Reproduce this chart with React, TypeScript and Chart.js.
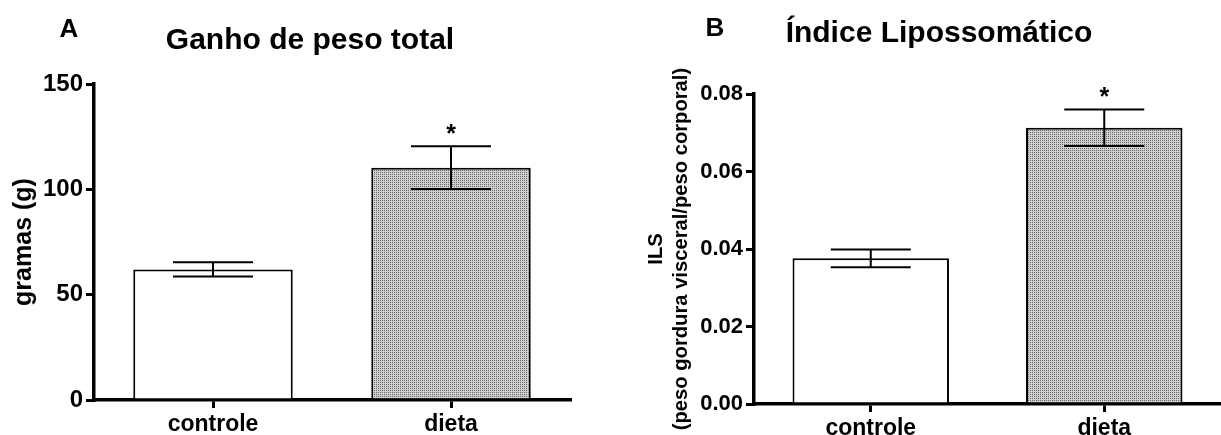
import React, { useEffect, useRef } from 'react';
import { Chart, registerables } from 'chart.js';

Chart.register(...registerables);

// ---- data ----
const categories = ['controle', 'dieta'];
const gainMean = [62, 110.3];
const gainSem = [3.4, 10.2];
const gainTicks = [0, 50, 100, 150];
const ilsMean = [0.0376, 0.0713];
const ilsSem = [0.0023, 0.0047];
const ilsTicks = [0, 0.02, 0.04, 0.06, 0.08];
const significant = [false, true];

const FONT = "'Liberation Sans', Arial, Helvetica, sans-serif";

function makePattern(): CanvasPattern | string {
  const pc = document.createElement('canvas');
  pc.width = 2;
  pc.height = 2;
  const g = pc.getContext('2d');
  if (!g) return '#bbbbbb';
  g.fillStyle = '#d0d0d0';
  g.fillRect(0, 0, 2, 2);
  g.fillStyle = '#666666';
  g.fillRect(0, 0, 1, 1);
  const p = g.createPattern(pc, 'repeat');
  return p || '#bbbbbb';
}

type Spec = {
  letter: string;
  letterX: number;
  letterBase: number;
  title: string;
  titleX: number;
  titleBase: number;
  mean: number[];
  sem: number[];
  ticks: number[];
  decimals: number;
  yTitle: string | string[];
  yTitleSize: number;
  yTitleLine: number;
  yTitlePad: number;
  tickSize: number;
  yWidth: number;
  xHeight: number;
  padTop: number;
  padRight: number;
  cap: number;
  starGap: number;
};

function decor(spec: Spec) {
  return {
    id: 'decor',
    afterDatasetsDraw(chart: any) {
      const { ctx } = chart;
      const x = chart.scales.x;
      const y = chart.scales.y;
      ctx.save();
      ctx.strokeStyle = '#000';
      ctx.lineWidth = 2;
      spec.mean.forEach((m, i) => {
        const px = x.getPixelForValue(i);
        const hi = y.getPixelForValue(m + spec.sem[i]);
        const lo = y.getPixelForValue(m - spec.sem[i]);
        ctx.beginPath();
        ctx.moveTo(px, hi);
        ctx.lineTo(px, lo);
        ctx.moveTo(px - spec.cap, hi);
        ctx.lineTo(px + spec.cap, hi);
        ctx.moveTo(px - spec.cap, lo);
        ctx.lineTo(px + spec.cap, lo);
        ctx.stroke();
        if (significant[i]) {
          ctx.fillStyle = '#000';
          ctx.font = `bold 25px ${FONT}`;
          ctx.textAlign = 'center';
          ctx.textBaseline = 'alphabetic';
          const mt = ctx.measureText('*');
          const cy = hi - spec.starGap;
          ctx.fillText('*', px, cy + (mt.actualBoundingBoxAscent - mt.actualBoundingBoxDescent) / 2);
        }
      });
      ctx.restore();
    },
    afterDraw(chart: any) {
      const { ctx } = chart;
      ctx.save();
      ctx.fillStyle = '#000';
      ctx.textBaseline = 'alphabetic';
      ctx.textAlign = 'center';
      ctx.font = `bold 26px ${FONT}`;
      ctx.fillText(spec.letter, spec.letterX, spec.letterBase);
      ctx.font = `bold 30px ${FONT}`;
      ctx.fillText(spec.title, spec.titleX, spec.titleBase);
      ctx.restore();
    },
  };
}

function makeConfig(spec: Spec, dietFill: any): any {
  return {
    type: 'bar',
    data: {
      labels: categories,
      datasets: [
        {
          data: spec.mean,
          backgroundColor: ['#ffffff', dietFill],
          borderColor: '#000000',
          borderWidth: 2,
          borderSkipped: 'start',
          barPercentage: 0.67,
          categoryPercentage: 1,
        },
      ],
    },
    options: {
      responsive: false,
      animation: false,
      devicePixelRatio: 1,
      layout: { padding: { top: spec.padTop, right: spec.padRight, bottom: 0, left: 0 } },
      plugins: {
        legend: { display: false },
        tooltip: { enabled: false },
        title: { display: false },
      },
      scales: {
        x: {
          type: 'category',
          offset: true,
          afterFit: (s: any) => {
            s.height = spec.xHeight;
          },
          grid: {
            offset: false,
            drawOnChartArea: false,
            drawTicks: true,
            tickLength: 8,
            lineWidth: 3,
            color: '#000',
          },
          border: { display: true, color: '#000', width: 3.5 },
          ticks: {
            color: '#000',
            padding: 3,
            maxRotation: 0,
            font: { family: FONT, size: 23, weight: 'bold' },
          },
        },
        y: {
          type: 'linear',
          min: spec.ticks[0],
          max: spec.ticks[spec.ticks.length - 1],
          afterBuildTicks: (s: any) => {
            s.ticks = spec.ticks.map((v) => ({ value: v }));
          },
          afterFit: (s: any) => {
            s.width = spec.yWidth;
          },
          grid: {
            drawOnChartArea: false,
            drawTicks: true,
            tickLength: 8,
            lineWidth: 3,
            color: '#000',
          },
          border: { display: true, color: '#000', width: 3.5 },
          ticks: {
            color: '#000',
            padding: 3,
            font: { family: FONT, size: spec.tickSize, weight: 'bold' },
            callback: (v: any) => Number(v).toFixed(spec.decimals),
          },
          title: {
            display: true,
            text: spec.yTitle,
            color: '#000',
            padding: { top: spec.yTitlePad, bottom: 0 },
            font: { family: FONT, size: spec.yTitleSize, weight: 'bold', lineHeight: spec.yTitleLine },
          },
        },
      },
    },
    plugins: [decor(spec)],
  };
}

const specA: Spec = {
  letter: 'A',
  letterX: 69,
  letterBase: 37,
  title: 'Ganho de peso total',
  titleX: 310,
  titleBase: 49,
  mean: gainMean,
  sem: gainSem,
  ticks: gainTicks,
  decimals: 0,
  yTitle: 'gramas (g)',
  yTitleSize: 25,
  yTitleLine: 1.2,
  yTitlePad: 9,
  tickSize: 24,
  yWidth: 94,
  xHeight: 35,
  padTop: 84,
  padRight: 40,
  cap: 40,
  starGap: 17.5,
};

const specB: Spec = {
  letter: 'B',
  letterX: 105,
  letterBase: 36,
  title: 'Índice Lipossomático',
  titleX: 329,
  titleBase: 42,
  mean: ilsMean,
  sem: ilsSem,
  ticks: ilsTicks,
  decimals: 2,
  yTitle: ['ILS', '(peso gordura visceral/peso corporal)'],
  yTitleSize: 20.2,
  yTitleLine: 1.24,
  yTitlePad: 33.5,
  tickSize: 22,
  yWidth: 144,
  xHeight: 31,
  padTop: 94,
  padRight: 0,
  cap: 40,
  starGap: 18,
};

export default function App() {
  const refA = useRef<HTMLCanvasElement | null>(null);
  const refB = useRef<HTMLCanvasElement | null>(null);

  useEffect(() => {
    const fill = makePattern();
    const charts: Chart[] = [];
    if (refA.current) charts.push(new Chart(refA.current, makeConfig(specA, fill)));
    if (refB.current) charts.push(new Chart(refB.current, makeConfig(specB, fill)));
    return () => {
      charts.forEach((c) => c.destroy());
    };
  }, []);

  return (
    <div style={{ position: 'absolute', left: 0, top: 0, width: 1221, height: 435, background: '#fff', overflow: 'hidden' }}>
      <canvas ref={refA} width={610} height={435} style={{ position: 'absolute', left: 0, top: 0 }} />
      <canvas ref={refB} width={611} height={435} style={{ position: 'absolute', left: 610, top: 0 }} />
    </div>
  );
}
